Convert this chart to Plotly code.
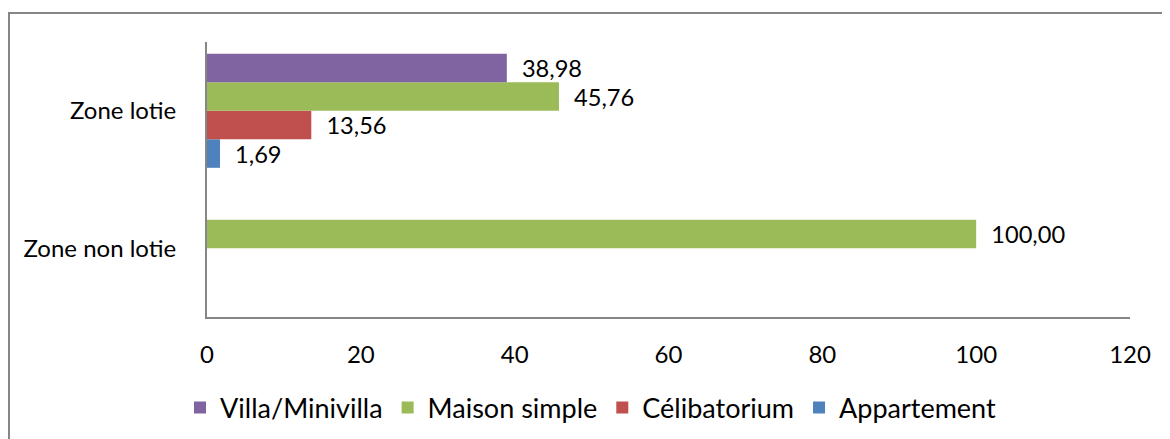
import plotly.graph_objects as go

categories = ["Zone non lotie", "Zone lotie"]
series_names = ["Appartement", "Célibatorium", "Maison simple", "Villa/Minivilla"]
appartement = [None, 1.69]
celibatorium = [None, 13.56]
maison_simple = [100.00, 45.76]
villa = [None, 38.98]
colors = ["#4F81BD", "#C0504D", "#9BBB59", "#8064A2"]

values = [appartement, celibatorium, maison_simple, villa]

FONT = "Lato"
FS = 24
PAD = "\u00a0\u00a0"

fig = go.Figure()
for name, vals, col in zip(series_names, values, colors):
    txt = [PAD + f"{v:.2f}".replace(".", ",") if v is not None else "" for v in vals]
    fig.add_trace(go.Bar(
        y=categories, x=vals, name=name, orientation="h",
        marker=dict(color=col, line=dict(width=0)),
        text=txt, textposition="outside", cliponaxis=False,
        textfont=dict(family=FONT, size=FS, color="#000000"),
    ))

# page body adds an 8px offset; figure is sized to fit the window
OFF = 8
W, H = 1170 - OFF, 439 - OFF
l, t = 207 - OFF, 42 - OFF
right_px, bottom_px = 1130 - OFF, 317 - OFF
r, b = W - right_px, H - bottom_px
pw, ph = right_px - l, bottom_px - t

def px_x(p):
    return (p - OFF - l) / pw

def px_y(p):
    return (bottom_px - (p - OFF)) / ph

fig.update_layout(
    width=W, height=H,
    margin=dict(l=l, r=r, t=t, b=b, pad=0, autoexpand=False),
    paper_bgcolor="white", plot_bgcolor="white",
    barmode="group", bargap=0.17, bargroupgap=0,
    font=dict(family=FONT, size=FS, color="#000000"),
    showlegend=True,
    legend=dict(orientation="h", traceorder="reversed",
                x=px_x(180), xanchor="left", y=px_y(408), yanchor="middle",
                font=dict(family=FONT, size=27, color="#000000"),
                itemwidth=30, bgcolor="rgba(0,0,0,0)"),
    xaxis=dict(range=[0, 120], dtick=20, tick0=0, showgrid=False, zeroline=False,
               showline=True, linecolor="#868686", linewidth=2, ticks="",
               ticklabelstandoff=15, tickfont=dict(family=FONT, size=FS, color="#000000"),
               automargin=False),
    yaxis=dict(showgrid=False, zeroline=False, showline=True, linecolor="#868686",
               linewidth=2, ticks="", ticklabelstandoff=24,
               tickfont=dict(family=FONT, size=FS, color="#000000"),
               categoryorder="array", categoryarray=categories, automargin=False),
    shapes=[dict(type="rect", xref="paper", yref="paper",
                 x0=px_x(9), x1=px_x(1190), y0=px_y(460), y1=px_y(13),
                 line=dict(color="#868686", width=2), fillcolor="rgba(0,0,0,0)",
                 layer="below")],
)

fig.write_html("out.html")
